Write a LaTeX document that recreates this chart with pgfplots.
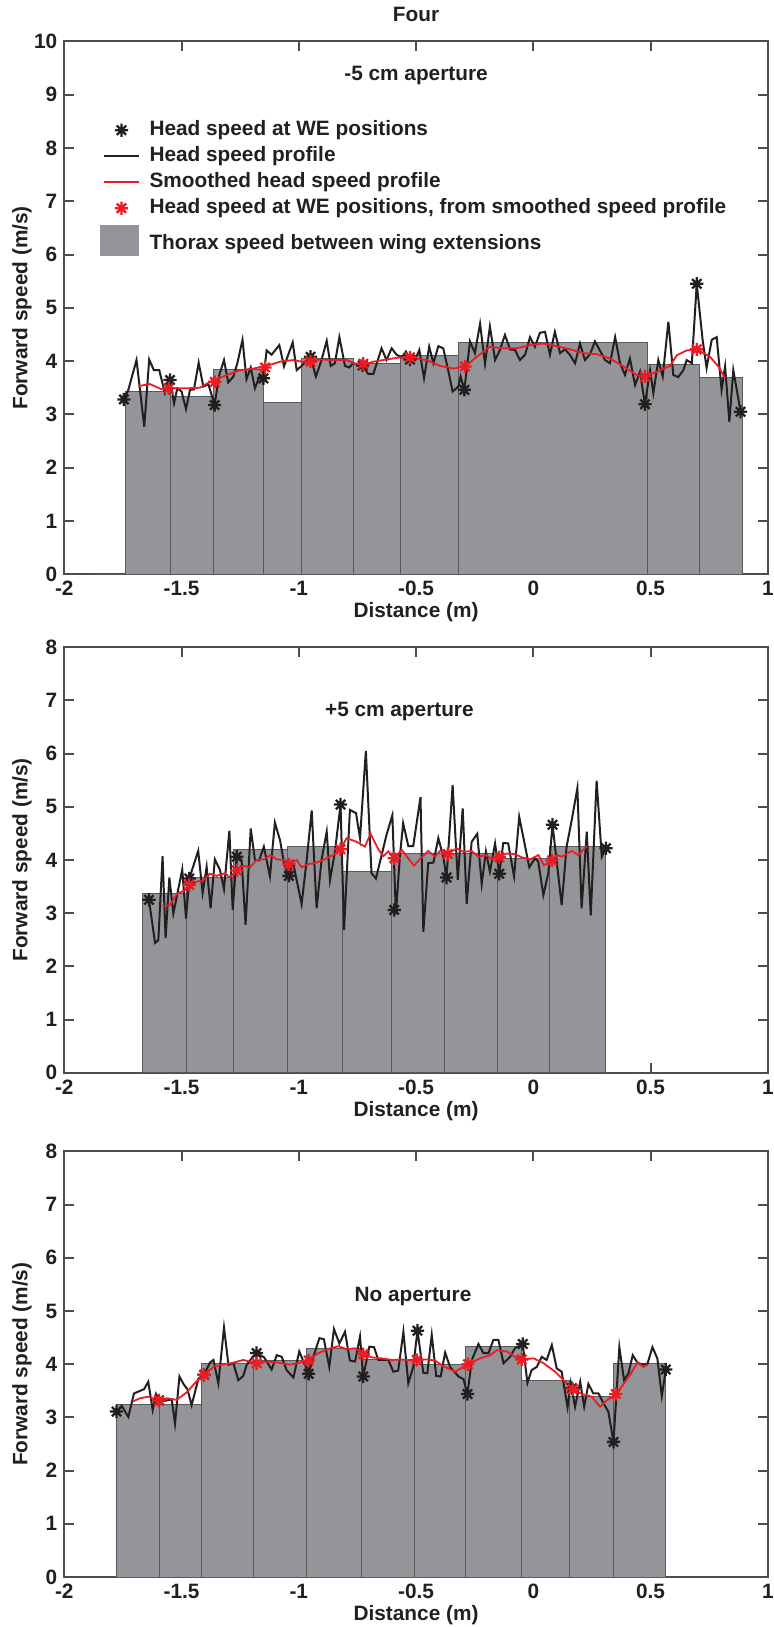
\documentclass[border=0pt]{standalone}
\usepackage{fontspec}
\setmainfont{Liberation Sans}
\usepackage{pgfplots}
\pgfplotsset{compat=1.18}

\definecolor{barfill}{RGB}{147,149,152}
\definecolor{baredge}{RGB}{88,89,91}
\definecolor{axgray}{RGB}{77,77,79}
\definecolor{ink}{RGB}{35,31,32}
\definecolor{mred}{RGB}{237,28,36}

\newcommand\fsz{\fontsize{10.4}{12.5}\selectfont\bfseries}

% MATLAB-like 8-armed asterisk
\pgfdeclareplotmark{star8}{%
  \pgfpathmoveto{\pgfqpoint{-\pgfplotmarksize}{0pt}}\pgfpathlineto{\pgfqpoint{\pgfplotmarksize}{0pt}}%
  \pgfpathmoveto{\pgfqpoint{0pt}{-\pgfplotmarksize}}\pgfpathlineto{\pgfqpoint{0pt}{\pgfplotmarksize}}%
  \pgfpathmoveto{\pgfqpoint{-0.707\pgfplotmarksize}{-0.707\pgfplotmarksize}}\pgfpathlineto{\pgfqpoint{0.707\pgfplotmarksize}{0.707\pgfplotmarksize}}%
  \pgfpathmoveto{\pgfqpoint{-0.707\pgfplotmarksize}{0.707\pgfplotmarksize}}\pgfpathlineto{\pgfqpoint{0.707\pgfplotmarksize}{-0.707\pgfplotmarksize}}%
  \pgfusepathqstroke}

\pgfplotsset{
  panel/.style={
    scale only axis, width=351.75pt,
    xmin=-2, xmax=1, ymin=0,
    xtick={-2,-1.5,-1,-0.5,0,0.5,1},
    ytick distance=1,
    major tick length=5pt,
    tick align=inside,
    axis line style={line width=1pt, axgray},
    every tick/.style={line width=1pt, axgray},
    tick label style={font=\fsz, ink},
    label style={font=\fsz, ink},
    /pgf/number format/assume math mode=true,
    xlabel={Distance (m)}, ylabel={Forward speed (m/s)},
    xlabel style={at={(axis description cs:0.5,0)}, anchor=center, yshift=-19pt},
    ylabel style={at={(axis description cs:-0.0600,0.5)}, anchor=center},
  },
  bars/.style={ybar interval, fill=barfill, draw=baredge, line width=0.5pt},
  head/.style={ink, line width=1pt, no marks},
  smooth head/.style={mred, line width=0.9pt, no marks},
  we/.style={only marks, mark=star8, mark size=3.3pt, line width=1.15pt, ink},
  we red/.style={only marks, mark=star8, mark size=3.3pt, line width=1.15pt, mred},
}

\begin{document}
\begin{tikzpicture}
\useasboundingbox (0pt,0pt) rectangle (387pt,-813.5pt);

% ---------------- -5 cm aperture ----------------
\begin{axis}[panel, at={(32.15pt,-287.15pt)}, anchor=south west,
  height=266.5pt, ymax=10,
  title={Four},
  every axis title/.style={font=\fsz, ink, at={(axis description cs:0.5,1)}, anchor=base, yshift=10pt},
  legend style={at={(axis description cs:0.0507,0.852)}, anchor=north west,
    draw=none, fill=none, inner sep=0pt, row sep=3.4pt, column sep=5pt,
    font=\fsz, text=ink, nodes={inner sep=0pt, text height=7.6pt, text depth=2pt}},
  legend cell align=left,
]
\addlegendimage{we}
\addlegendentry{Head speed at WE positions}
\addlegendimage{head, line legend}
\addlegendentry{Head speed profile}
\addlegendimage{smooth head, line legend}
\addlegendentry{Smoothed head speed profile}
\addlegendimage{we red}
\addlegendentry{Head speed at WE positions, from smoothed speed profile}
\addlegendimage{legend image code/.code={\fill[barfill] (-1.8pt,-5.5pt) rectangle (17pt,9.5pt);}}
\addlegendentry{Thorax speed between wing extensions}

\addplot[bars] coordinates {
  (-1.887,0) (-1.738,3.43) (-1.549,3.345) (-1.364,3.85) (-1.151,3.23) (-0.989,4.05)
  (-0.767,3.95) (-0.567,4.10) (-0.319,4.35) (0.489,3.94) (0.707,3.70) (0.891,0)
};
\addplot[head] coordinates {
  (-1.746,3.28) (-1.727,3.46) (-1.692,4.02) (-1.659,2.77) (-1.638,4.03) (-1.618,3.83)
  (-1.595,3.83) (-1.571,3.40) (-1.549,3.65) (-1.532,3.21) (-1.518,3.49) (-1.500,3.43)
  (-1.481,3.10) (-1.464,3.46) (-1.447,3.47) (-1.427,3.97) (-1.407,3.52) (-1.386,3.57)
  (-1.359,3.18) (-1.339,3.74) (-1.319,4.02) (-1.301,3.60) (-1.279,3.71) (-1.262,3.96)
  (-1.240,4.40) (-1.223,3.66) (-1.205,3.88) (-1.187,3.49) (-1.168,3.71) (-1.151,3.68)
  (-1.137,4.20) (-1.116,4.12) (-1.083,4.30) (-1.063,3.90) (-1.026,4.35) (-1.009,3.83)
  (-0.988,3.91) (-0.950,4.08) (-0.927,3.71) (-0.903,4.02) (-0.881,4.38) (-0.864,3.91)
  (-0.846,3.96) (-0.827,4.45) (-0.803,3.91) (-0.785,3.88) (-0.768,3.96) (-0.728,3.92)
  (-0.704,3.76) (-0.682,3.76) (-0.647,4.24) (-0.626,4.02) (-0.604,4.24) (-0.583,4.12)
  (-0.561,4.07) (-0.543,4.18) (-0.526,4.03) (-0.505,4.02) (-0.486,4.21) (-0.466,3.68)
  (-0.444,4.27) (-0.426,3.96) (-0.405,4.28) (-0.384,4.24) (-0.363,3.83) (-0.344,3.43)
  (-0.320,3.52) (-0.310,3.71) (-0.294,3.46) (-0.270,4.37) (-0.249,4.15) (-0.227,4.70)
  (-0.206,3.95) (-0.185,4.65) (-0.163,4.02) (-0.142,4.21) (-0.121,4.49) (-0.099,4.22)
  (-0.078,4.21) (-0.057,4.02) (-0.035,4.12) (-0.014,4.45) (0.007,4.27) (0.028,4.53)
  (0.050,4.55) (0.071,4.12) (0.092,4.55) (0.114,4.15) (0.135,4.22) (0.156,4.12)
  (0.178,3.96) (0.199,4.33) (0.220,4.02) (0.242,4.13) (0.263,4.37) (0.284,4.20)
  (0.306,4.02) (0.327,3.96) (0.349,4.45) (0.370,3.96) (0.391,3.74) (0.412,4.05)
  (0.434,3.55) (0.455,3.80) (0.476,3.19) (0.498,3.83) (0.512,3.40) (0.533,4.02)
  (0.552,3.71) (0.576,4.74) (0.597,3.74) (0.618,3.70) (0.640,3.83) (0.654,4.02)
  (0.676,3.96) (0.697,5.45) (0.722,4.40) (0.739,3.87) (0.761,4.40) (0.782,4.45)
  (0.803,3.46) (0.818,3.90) (0.836,2.86) (0.853,3.83) (0.884,3.05)
};
\addplot[smooth head] coordinates {
  (-1.684,3.53) (-1.635,3.57) (-1.585,3.47) (-1.536,3.49) (-1.479,3.49) (-1.422,3.50)
  (-1.379,3.61) (-1.322,3.71) (-1.251,3.83) (-1.194,3.86) (-1.137,3.91) (-1.080,3.99)
  (-1.023,4.02) (-0.966,3.97) (-0.910,4.03) (-0.853,4.02) (-0.796,4.02) (-0.739,3.91)
  (-0.682,3.99) (-0.625,4.03) (-0.568,4.07) (-0.512,4.05) (-0.455,4.02) (-0.398,3.91)
  (-0.341,3.86) (-0.291,3.90) (-0.241,4.08) (-0.185,4.27) (-0.128,4.24) (-0.071,4.24)
  (-0.014,4.30) (0.043,4.33) (0.100,4.28) (0.157,4.22) (0.213,4.15) (0.270,4.13)
  (0.327,4.05) (0.384,3.90) (0.441,3.74) (0.476,3.71) (0.526,3.80) (0.583,3.91)
  (0.612,4.11) (0.654,4.20) (0.697,4.22) (0.754,4.08) (0.789,3.90) (0.818,3.68)
};
\addplot[we] coordinates {
  (-1.746,3.28) (-1.549,3.645) (-1.359,3.176) (-1.151,3.677) (-0.950,4.08) (-0.728,3.92)
  (-0.526,4.03) (-0.294,3.46) (0.476,3.19) (0.697,5.45) (0.884,3.05)
};
\addplot[we red] coordinates {
  (-1.555,3.49) (-1.358,3.61) (-1.144,3.88) (-0.950,3.99) (-0.725,3.95) (-0.526,4.07)
  (-0.291,3.90) (0.476,3.71) (0.697,4.22)
};
\node[font=\fsz, ink] at (axis cs:-0.500,9.35) {-5 cm aperture};
\end{axis}

% ---------------- +5 cm aperture ----------------
\begin{axis}[panel, at={(32.15pt,-536.35pt)}, anchor=south west,
  height=212.8pt, ymax=8]
\addplot[bars] coordinates {
  (-1.667,3.37) (-1.481,3.67) (-1.279,4.20) (-1.049,4.25) (-0.813,3.79) (-0.606,4.12)
  (-0.380,4.12) (-0.152,4.03) (0.070,4.26) (0.306,0)
};
\addplot[head] coordinates {
  (-1.639,3.25) (-1.613,2.44) (-1.599,2.49) (-1.581,4.07) (-1.568,2.53) (-1.552,3.67)
  (-1.535,2.99) (-1.497,3.82) (-1.481,2.90) (-1.467,3.65) (-1.429,4.17) (-1.410,3.38)
  (-1.393,3.87) (-1.376,3.09) (-1.358,4.01) (-1.336,3.81) (-1.319,3.45) (-1.296,4.55)
  (-1.282,3.06) (-1.265,4.06) (-1.244,4.00) (-1.227,2.78) (-1.205,4.59) (-1.187,4.00)
  (-1.169,3.99) (-1.149,4.25) (-1.123,3.69) (-1.102,4.70) (-1.080,4.37) (-1.063,3.94)
  (-1.045,3.69) (-1.024,3.94) (-0.988,3.17) (-0.967,3.97) (-0.945,4.93) (-0.924,3.09)
  (-0.903,4.00) (-0.881,4.53) (-0.867,3.62) (-0.846,4.15) (-0.822,5.04) (-0.807,2.68)
  (-0.782,4.94) (-0.756,4.88) (-0.739,4.41) (-0.714,6.05) (-0.690,3.75) (-0.671,3.65)
  (-0.626,4.47) (-0.601,4.84) (-0.586,2.98) (-0.569,4.06) (-0.555,4.69) (-0.533,4.26)
  (-0.512,4.26) (-0.481,5.18) (-0.469,2.65) (-0.448,3.94) (-0.426,3.95) (-0.405,4.41)
  (-0.384,4.06) (-0.370,3.67) (-0.344,5.41) (-0.322,3.62) (-0.301,4.97) (-0.284,3.17)
  (-0.263,4.34) (-0.239,4.49) (-0.220,3.55) (-0.202,4.16) (-0.185,3.78) (-0.163,4.31)
  (-0.145,3.74) (-0.128,4.32) (-0.107,4.31) (-0.082,3.69) (-0.060,4.81) (-0.017,3.86)
  (0.007,4.03) (0.021,3.97) (0.043,3.34) (0.064,3.75) (0.082,4.66) (0.121,3.15)
  (0.142,4.25) (0.164,4.75) (0.188,5.35) (0.206,3.09) (0.228,4.53) (0.245,2.96)
  (0.270,5.49) (0.292,4.06) (0.310,4.22)
};
\addplot[smooth head] coordinates {
  (-1.581,3.13) (-1.550,3.15) (-1.518,3.37) (-1.485,3.43) (-1.467,3.53) (-1.436,3.59)
  (-1.407,3.62) (-1.379,3.74) (-1.350,3.70) (-1.315,3.75) (-1.294,3.67) (-1.265,3.80)
  (-1.237,3.89) (-1.208,3.86) (-1.180,4.00) (-1.151,4.01) (-1.120,4.09) (-1.095,4.01)
  (-1.066,4.00) (-1.042,3.92) (-1.009,4.00) (-0.988,3.86) (-0.960,3.92) (-0.924,3.95)
  (-0.881,4.03) (-0.853,4.09) (-0.822,4.20) (-0.796,4.41) (-0.753,4.34) (-0.718,4.25)
  (-0.694,4.49) (-0.661,4.20) (-0.640,4.07) (-0.618,4.16) (-0.593,4.03) (-0.561,4.19)
  (-0.540,4.07) (-0.509,3.89) (-0.476,4.05) (-0.448,4.17) (-0.419,4.06) (-0.398,4.17)
  (-0.365,4.11) (-0.327,4.22) (-0.298,4.15) (-0.263,4.17) (-0.234,4.06) (-0.199,4.09)
  (-0.178,4.01) (-0.145,4.05) (-0.114,4.12) (-0.078,4.11) (-0.050,4.05) (-0.014,4.01)
  (0.022,4.09) (0.045,3.90) (0.080,3.99) (0.102,4.09) (0.121,4.06) (0.164,4.17)
  (0.192,4.09) (0.228,4.26)
};
\addplot[we] coordinates {
  (-1.639,3.25) (-1.467,3.65) (-1.265,4.06) (-1.042,3.70) (-0.822,5.04) (-0.593,3.06)
  (-0.370,3.67) (-0.145,3.74) (0.082,4.66) (0.310,4.22)
};
\addplot[we red] coordinates {
  (-1.467,3.53) (-1.265,3.80) (-1.042,3.92) (-0.822,4.20) (-0.593,4.03) (-0.365,4.11)
  (-0.145,4.05) (0.080,3.99)
};
\node[font=\fsz, ink] at (axis cs:-0.571,6.79) {+5 cm aperture};
\end{axis}

% ---------------- No aperture ----------------
\begin{axis}[panel, at={(32.15pt,-788.5pt)}, anchor=south west,
  height=212.8pt, ymax=8]
\addplot[bars] coordinates {
  (-1.777,3.25) (-1.596,3.25) (-1.416,4.02) (-1.194,4.07) (-0.969,4.30) (-0.732,4.08)
  (-0.507,3.99) (-0.288,4.33) (-0.049,3.69) (0.154,3.40) (0.342,4.02) (0.565,0)
};
\addplot[head] coordinates {
  (-1.777,3.11) (-1.755,3.22) (-1.727,3.01) (-1.703,3.45) (-1.677,3.50) (-1.660,3.53)
  (-1.642,3.67) (-1.623,3.14) (-1.609,3.44) (-1.592,3.30) (-1.561,3.32) (-1.542,3.34)
  (-1.528,2.88) (-1.509,3.77) (-1.492,3.63) (-1.475,3.53) (-1.457,3.23) (-1.428,3.73)
  (-1.404,3.80) (-1.379,4.03) (-1.364,4.08) (-1.343,3.64) (-1.319,4.69) (-1.300,3.99)
  (-1.279,4.02) (-1.258,3.70) (-1.237,3.78) (-1.222,3.99) (-1.201,4.11) (-1.180,4.21)
  (-1.148,4.13) (-1.116,3.90) (-1.094,4.17) (-1.073,4.14) (-1.052,3.89) (-1.023,3.75)
  (-0.998,4.24) (-0.978,4.03) (-0.958,3.82) (-0.938,4.14) (-0.912,4.49) (-0.893,4.47)
  (-0.870,3.95) (-0.850,4.66) (-0.827,4.39) (-0.803,4.61) (-0.782,4.07) (-0.760,4.05)
  (-0.739,4.52) (-0.725,3.77) (-0.699,4.33) (-0.679,4.32) (-0.661,4.08) (-0.618,4.08)
  (-0.597,3.86) (-0.576,3.88) (-0.554,4.61) (-0.533,3.64) (-0.512,3.95) (-0.494,4.63)
  (-0.469,3.84) (-0.452,3.83) (-0.433,4.55) (-0.414,3.78) (-0.395,3.77) (-0.376,4.22)
  (-0.355,3.95) (-0.319,3.77) (-0.298,3.72) (-0.281,3.44) (-0.262,4.08) (-0.234,4.38)
  (-0.213,4.21) (-0.191,4.21) (-0.170,4.46) (-0.149,4.46) (-0.127,4.02) (-0.099,4.14)
  (-0.078,4.30) (-0.045,4.38) (-0.025,3.65) (-0.007,3.89) (0.015,3.95) (0.036,4.14)
  (0.057,4.08) (0.079,4.36) (0.100,3.92) (0.121,3.86) (0.146,3.19) (0.160,3.65)
  (0.178,3.20) (0.200,3.67) (0.217,3.20) (0.235,3.63) (0.256,3.45) (0.278,3.45)
  (0.299,3.27) (0.320,3.11) (0.342,2.54) (0.367,4.32) (0.387,3.70) (0.406,3.83)
  (0.424,4.17) (0.444,4.03) (0.467,3.99) (0.487,4.01) (0.508,4.32) (0.529,4.11)
  (0.548,3.40) (0.565,3.90)
};
\addplot[smooth head] coordinates {
  (-1.708,3.30) (-1.677,3.36) (-1.642,3.39) (-1.596,3.32) (-1.561,3.36) (-1.521,3.33)
  (-1.478,3.47) (-1.438,3.67) (-1.404,3.80) (-1.364,3.95) (-1.329,3.99) (-1.286,4.02)
  (-1.237,4.08) (-1.208,4.05) (-1.180,4.02) (-1.137,4.05) (-1.087,4.03) (-1.037,3.99)
  (-0.995,4.03) (-0.958,4.07) (-0.924,4.19) (-0.881,4.28) (-0.831,4.34) (-0.796,4.28)
  (-0.760,4.30) (-0.725,4.19) (-0.689,4.13) (-0.647,4.11) (-0.604,4.08) (-0.561,4.09)
  (-0.526,4.07) (-0.497,4.08) (-0.455,4.09) (-0.419,4.07) (-0.383,3.96) (-0.333,3.86)
  (-0.279,4.00) (-0.227,4.11) (-0.184,4.17) (-0.156,4.26) (-0.113,4.24) (-0.078,4.14)
  (-0.049,4.09) (0.001,4.11) (0.043,4.02) (0.093,3.86) (0.136,3.67) (0.168,3.53)
  (0.207,3.44) (0.249,3.39) (0.285,3.20) (0.313,3.32) (0.352,3.44) (0.377,3.58)
  (0.413,3.80) (0.444,4.03) (0.470,3.95) (0.487,3.99)
};
\addplot[we] coordinates {
  (-1.777,3.11) (-1.596,3.32) (-1.404,3.80) (-1.180,4.21) (-0.958,3.82) (-0.725,3.77)
  (-0.494,4.63) (-0.281,3.44) (-0.045,4.38) (0.165,3.55) (0.342,2.54) (0.565,3.90)
};
\addplot[we red] coordinates {
  (-1.596,3.32) (-1.404,3.80) (-1.180,4.02) (-0.958,4.07) (-0.725,4.19) (-0.497,4.08)
  (-0.279,4.00) (-0.049,4.09) (0.168,3.53) (0.352,3.44)
};
\node[font=\fsz, ink] at (axis cs:-0.513,5.28) {No aperture};
\end{axis}
\end{tikzpicture}
\end{document}
